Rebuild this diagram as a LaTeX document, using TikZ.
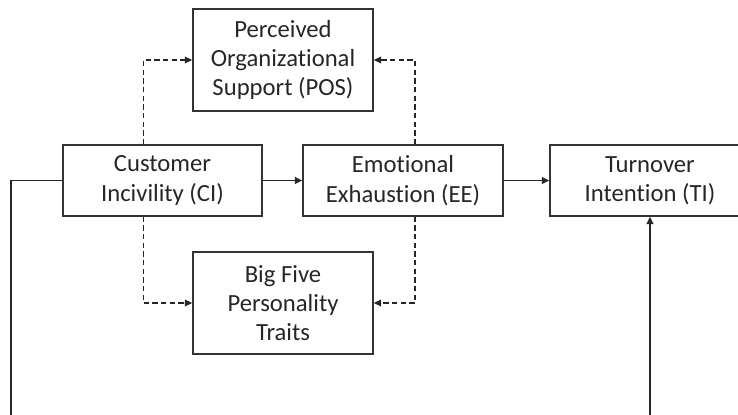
\documentclass[tikz,border=0pt]{standalone}
\usepackage{fontspec}
\setmainfont{Carlito}[Ligatures=NoCommon]
\usetikzlibrary{arrows.meta}
\tikzset{
	varbox/.style={draw=black!80,line width=1.2pt,align=center,inner sep=0pt,
		font=\fontsize{18.5}{22}\selectfont,text=black!85},
	link/.style={draw=black!85,line width=1.3pt,-{Triangle[length=5.5pt,width=5pt]}},
	dlink/.style={link,line width=1pt,dash pattern=on 4pt off 2.5pt}
}
\begin{document}
\begin{tikzpicture}[x=0.75pt,y=-0.75pt]
	\useasboundingbox (0,0) rectangle (738,414);
	\node[varbox,minimum width=149.25pt,minimum height=53.25pt] (CI) at (162.5,180.5) {Customer\\Incivility (CI)};
	\node[varbox,minimum width=150pt,minimum height=53.25pt] (EE) at (403,180.5) {Emotional\\Exhaustion (EE)};
	\node[varbox,minimum width=150pt,minimum height=53.25pt] (TI) at (650,180.5) {Turnover\\Intention (TI)};
	\node[varbox,minimum width=135pt,minimum height=76.5pt] (POS) at (283,60) {Perceived\\Organizational\\Support (POS)};
	\node[varbox,minimum width=135pt,minimum height=76.5pt] (BF) at (283,303) {Big Five\\Personality\\Traits};
	\coordinate (corner1) at (11,417.5);
	% moderators
	\draw[dlink] ([xshift=-14.5pt]CI.north) |- (POS.west);
	\draw[dlink] ([xshift=9pt]EE.north) |- (POS.east);
	\draw[dlink] ([xshift=-14.5pt]CI.south) |- (BF.west);
	\draw[dlink] ([xshift=9pt]EE.south) |- (BF.east);
	% main path
	\draw[link] (CI) -- (EE);
	\draw[link] (EE) -- (TI);
	\draw[link] (CI.west) -| (corner1) -| (TI.south);
\end{tikzpicture}
\end{document}
